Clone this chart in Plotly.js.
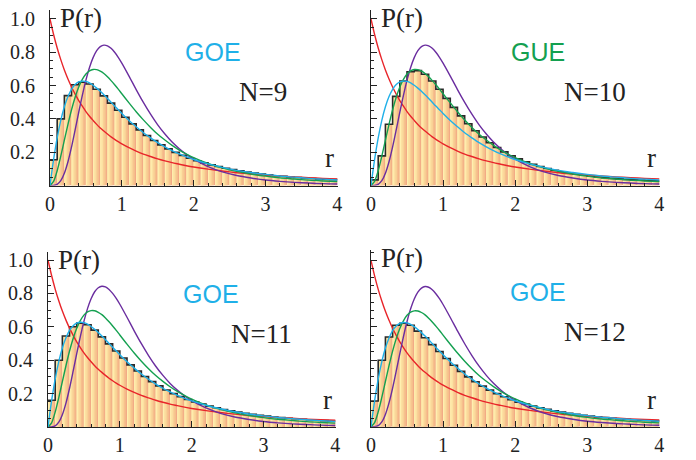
<!DOCTYPE html>
<html>
<head>
<meta charset="utf-8">
<script src="https://cdn.plot.ly/plotly-3.0.1.min.js"></script>
<style>html,body{margin:0;padding:0;background:#fff;}#chart{width:696px;height:460px;}</style>
</head>
<body>
<div id="chart"></div>
<script>
// ---- data ----
const binEdges = [0,0.1,0.2,0.3,0.4,0.5,0.6,0.7,0.8,0.9,1.0,1.1,1.2,1.3,1.4,1.5,1.6,1.7,1.8,1.9,2.0,
  2.1,2.2,2.3,2.4,2.5,2.6,2.7,2.8,2.9,3.0,3.1,3.2,3.3,3.4,3.5,3.6,3.7,3.8,3.9,4.0];
const binLeft = binEdges.slice(0, 40);

const histN9 = [0.155,0.40,0.54,0.605,0.62,0.61,0.578,0.538,0.495,0.452,0.41,0.37,0.334,0.30,0.27,0.244,0.22,0.199,0.181,0.164,
  0.149,0.136,0.124,0.114,0.104,0.096,0.088,0.081,0.075,0.069,0.064,0.059,0.055,0.051,0.048,0.045,0.042,0.039,0.037,0.035];
const histN10 = [0.034,0.178,0.368,0.535,0.628,0.683,0.69,0.668,0.628,0.578,0.523,0.469,0.418,0.371,0.329,0.291,0.257,0.228,0.202,0.179,
  0.16,0.142,0.127,0.114,0.102,0.092,0.083,0.075,0.068,0.062,0.056,0.051,0.047,0.043,0.040,0.037,0.034,0.032,0.030,0.028];
const histN11 = [0.16,0.40,0.545,0.60,0.622,0.612,0.58,0.54,0.498,0.455,0.413,0.372,0.335,0.302,0.272,0.246,0.222,0.2,0.182,0.165,
  0.15,0.137,0.125,0.115,0.105,0.097,0.089,0.082,0.076,0.07,0.065,0.06,0.056,0.052,0.049,0.046,0.043,0.04,0.038,0.036];
const histN12 = [0.155,0.40,0.54,0.61,0.622,0.61,0.575,0.535,0.494,0.452,0.41,0.37,0.333,0.30,0.27,0.244,0.22,0.199,0.18,0.163,
  0.148,0.136,0.124,0.113,0.104,0.095,0.088,0.081,0.075,0.069,0.064,0.059,0.055,0.051,0.048,0.045,0.042,0.039,0.037,0.035];

const rGrid = [0,0.05,0.1,0.15,0.2,0.25,0.3,0.35,0.4,0.45,0.5,0.55,0.6,0.65,0.7,0.75,0.8,0.85,0.9,0.95,1.0,
  1.1,1.2,1.3,1.4,1.5,1.6,1.7,1.8,1.9,2.0,2.2,2.4,2.6,2.8,3.0,3.2,3.4,3.6,3.8,4.0];
const poisson = [1.0,0.907,0.826,0.756,0.694,0.64,0.592,0.549,0.510,0.476,0.444,0.416,0.391,0.367,0.346,0.327,0.309,0.292,0.277,0.263,0.25,
  0.227,0.207,0.189,0.174,0.16,0.148,0.137,0.128,0.119,0.111,0.098,0.087,0.077,0.069,0.0625,0.057,0.052,0.047,0.043,0.04];
const goe = [0,0.156,0.286,0.391,0.473,0.534,0.578,0.606,0.622,0.627,0.625,0.616,0.602,0.585,0.566,0.545,0.523,0.500,0.477,0.455,0.433,
  0.391,0.353,0.317,0.286,0.257,0.232,0.210,0.190,0.172,0.156,0.130,0.109,0.091,0.078,0.0665,0.057,0.050,0.043,0.038,0.033];
const gue = [0,0.025,0.089,0.176,0.272,0.367,0.455,0.530,0.591,0.637,0.670,0.689,0.697,0.696,0.687,0.673,0.653,0.630,0.605,0.579,0.551,
  0.496,0.443,0.394,0.349,0.308,0.273,0.241,0.213,0.189,0.167,0.132,0.106,0.085,0.069,0.056,0.046,0.039,0.032,0.027,0.023];
const gse = [0,0.0005,0.007,0.029,0.074,0.143,0.232,0.334,0.440,0.541,0.633,0.709,0.768,0.810,0.834,0.843,0.839,0.824,0.800,0.770,0.735,
  0.657,0.576,0.499,0.428,0.364,0.309,0.261,0.221,0.187,0.158,0.114,0.082,0.060,0.045,0.033,0.025,0.019,0.015,0.011,0.009];

const panels = [
  {ens: 'GOE', n: 'N=9',  hist: histN9},
  {ens: 'GUE', n: 'N=10', hist: histN10},
  {ens: 'GOE', n: 'N=11', hist: histN11},
  {ens: 'GOE', n: 'N=12', hist: histN12}
];

// ---- styles ----
const W = 696, H = 460;
const ensColor = {GOE: '#1fb0e8', GUE: '#14a050'};
const boxes = [
  {x0: 50, x1: 338, yb: 185.5, yt: 10, ymax: 1.054},
  {x0: 371, x1: 660, yb: 185.5, yt: 10, ymax: 1.054},
  {x0: 48, x1: 336, yb: 427, yt: 252, ymax: 1.048},
  {x0: 371, x1: 660, yb: 426.7, yt: 250, ymax: 1.063}
];
const barLayers = [
  {w: 0.1, c: '#f2ab86'},
  {w: 0.082, c: '#f6bf8c'},
  {w: 0.06, c: '#f9d196'},
  {w: 0.038, c: '#fce1a1'},
  {w: 0.016, c: '#ffefb0'}
];
const serif = '"Liberation Serif", serif';
const sans = '"Liberation Sans", sans-serif';

const traces = [];
const layout = {
  width: W, height: H, margin: {l: 0, r: 0, t: 0, b: 0},
  paper_bgcolor: '#fff', plot_bgcolor: 'rgba(0,0,0,0)',
  showlegend: false, barmode: 'overlay', annotations: []
};

panels.forEach((p, i) => {
  const k = i + 1;
  const xa = 'x' + (k === 1 ? '' : k), ya = 'y' + (k === 1 ? '' : k);
  const b = boxes[i];
  barLayers.forEach(L => {
    traces.push({type: 'bar', x: binLeft, y: p.hist, offset: 0, width: L.w,
      marker: {color: L.c, line: {width: 0}}, xaxis: xa, yaxis: ya, hoverinfo: 'skip'});
  });
  traces.push({type: 'scatter', mode: 'lines', x: binEdges, y: p.hist.concat([p.hist[p.hist.length - 1]]),
    line: {shape: 'hv', color: '#2a2a2a', width: 1.6}, xaxis: xa, yaxis: ya});
  const curves = [[poisson, '#e8252a'], [gse, '#6a2d9f'], [gue, '#14a050'], [goe, '#1fb0e8']];
  curves.forEach(([arr, col]) => {
    traces.push({type: 'scatter', mode: 'lines', x: rGrid, y: arr,
      line: {shape: 'spline', smoothing: 0.8, color: col, width: 1.4}, xaxis: xa, yaxis: ya});
  });
  const left = (i % 2 === 0);
  layout['xaxis' + (k === 1 ? '' : k)] = {
    domain: [b.x0 / W, b.x1 / W], range: [0, 4.01], anchor: ya,
    showgrid: false, zeroline: false, showline: true, linecolor: '#222', linewidth: 1,
    ticks: 'inside', ticklen: 6, tickcolor: '#222', tickmode: 'array', tickvals: [0, 1, 2, 3, 4],
    ticktext: ['0', '1', '2', '3', '4'],
    minor: {tickmode: 'linear', tick0: 0, dtick: 0.2, ticklen: 3, ticks: 'inside', tickcolor: '#222'},
    tickfont: {family: serif, size: 20, color: '#222'}, ticklabelstandoff: 0, fixedrange: true
  };
  layout['yaxis' + (k === 1 ? '' : k)] = {
    domain: [1 - b.yb / H, 1 - b.yt / H], range: [0, b.ymax], anchor: xa,
    showgrid: false, zeroline: false, showline: true, linecolor: '#222', linewidth: 1,
    ticks: 'inside', ticklen: 6, tickcolor: '#222', tickmode: 'array',
    tickvals: [0.2, 0.4, 0.6, 0.8, 1.0], ticktext: ['0.2', '0.4', '0.6', '0.8', '1.0'],
    minor: {tickmode: 'linear', tick0: 0, dtick: 0.05, ticklen: 3, ticks: 'inside', tickcolor: '#222'},
    showticklabels: left, tickfont: {family: serif, size: 20, color: '#222'}, ticklabelstandoff: 10,
    fixedrange: true
  };
  const dx = b.x0, ty = b.yb;
  const ann = (txt, x, y, font) => layout.annotations.push({text: txt, x: x / W, y: 1 - y / H,
    xref: 'paper', yref: 'paper', showarrow: false, xanchor: 'center', yanchor: 'middle', font: font});
  ann('P(r)', dx + 31, b.yt + 8, {family: serif, size: 27, color: '#222'});
  ann(p.ens, dx + (i % 2 === 0 ? 163 : 167), b.yt + 42, {family: sans, size: 25, color: ensColor[p.ens]});
  ann(p.n, dx + (i % 2 === 0 ? 213 : 224), b.yt + 82, {family: serif, size: 27, color: '#222'});
  ann('r', b.x1 - 9, ty - 27, {family: serif, size: 27, color: '#222'});
});

Plotly.newPlot('chart', traces, layout, {staticPlot: true, displayModeBar: false});
</script>
</body>
</html>
